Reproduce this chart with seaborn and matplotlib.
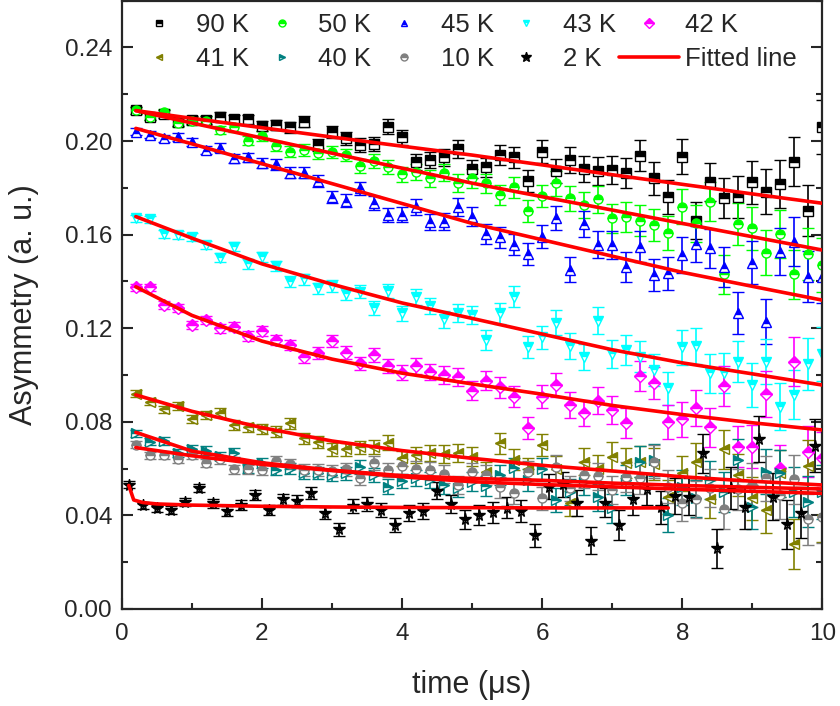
import matplotlib
matplotlib.use('Agg')
import matplotlib.pyplot as plt
from matplotlib.lines import Line2D
from matplotlib.ticker import MultipleLocator
import seaborn as sns

# Tiempos (us)
t = [0.2, 0.4, 0.6, 0.8, 1.0, 1.2, 1.4, 1.6, 1.8, 2.0, 2.2, 2.4, 2.6, 2.8, 3.0, 3.2, 3.4,
     3.6, 3.8, 4.0, 4.2, 4.4, 4.6, 4.8, 5.0, 5.2, 5.4, 5.6, 5.8, 6.0, 6.2, 6.4, 6.6, 6.8,
     7.0, 7.2, 7.4, 7.6, 7.8, 8.0, 8.2, 8.4, 8.6, 8.8, 9.0, 9.2, 9.4, 9.6, 9.8, 10.0]
t_2k = [0.1, 0.3, 0.5, 0.7, 0.9, 1.1, 1.3, 1.5, 1.7, 1.9, 2.1, 2.3, 2.5, 2.7, 2.9, 3.1, 3.3,
        3.5, 3.7, 3.9, 4.1, 4.3, 4.5, 4.7, 4.9, 5.1, 5.3, 5.5, 5.7, 5.9, 6.1, 6.3, 6.5, 6.7,
        6.9, 7.1, 7.3, 7.5, 7.7, 7.9, 8.1, 8.3, 8.5, 8.7, 8.9, 9.1, 9.3, 9.5, 9.7, 9.9]

# Barras de error (comunes)
err = [0.0015, 0.0015, 0.0016, 0.0017, 0.0017, 0.0018, 0.0019, 0.0020, 0.0020, 0.0021,
       0.0022, 0.0023, 0.0024, 0.0025, 0.0026, 0.0027, 0.0029, 0.0030, 0.0031, 0.0032,
       0.0034, 0.0035, 0.0037, 0.0038, 0.0040, 0.0042, 0.0044, 0.0045, 0.0047, 0.0049,
       0.0052, 0.0054, 0.0056, 0.0058, 0.0061, 0.0064, 0.0066, 0.0069, 0.0072, 0.0075,
       0.0078, 0.0082, 0.0085, 0.0089, 0.0093, 0.0097, 0.0101, 0.0105, 0.0110, 0.0114]

# Asimetria por temperatura
a90 = [0.2132, 0.2104, 0.2115, 0.2083, 0.2090, 0.2090, 0.2104, 0.2093, 0.2093, 0.2064,
       0.2068, 0.2058, 0.2083, 0.1983, 0.2040, 0.2011, 0.1983, 0.1987, 0.2061, 0.2016,
       0.1912, 0.1919, 0.1930, 0.1966, 0.1880, 0.1887, 0.1940, 0.1930, 0.1830, 0.1954,
       0.1873, 0.1919, 0.1880, 0.1872, 0.1876, 0.1862, 0.1937, 0.1840, 0.1760, 0.1933,
       0.1660, 0.1826, 0.1755, 0.1760, 0.1823, 0.1783, 0.1816, 0.1912, 0.1702, 0.2060]
a50 = [0.2132, 0.2104, 0.2123, 0.2076, 0.2087, 0.2087, 0.2047, 0.2059, 0.2001, 0.2023,
       0.1979, 0.1954, 0.1962, 0.1947, 0.1954, 0.1940, 0.1893, 0.1916, 0.1890, 0.1859,
       0.1869, 0.1840, 0.1865, 0.1819, 0.1840, 0.1819, 0.1769, 0.1802, 0.1702, 0.1765,
       0.1819, 0.1755, 0.1726, 0.1751, 0.1670, 0.1674, 0.1660, 0.1641, 0.1608, 0.1719,
       0.1648, 0.1741, 0.1430, 0.1645, 0.1627, 0.1523, 0.1603, 0.1430, 0.1517, 0.1470]
a45 = [0.2040, 0.2026, 0.2011, 0.2019, 0.1997, 0.1962, 0.1971, 0.1926, 0.1930, 0.1907,
       0.1900, 0.1865, 0.1865, 0.1830, 0.1762, 0.1745, 0.1798, 0.1736, 0.1684, 0.1684,
       0.1719, 0.1655, 0.1655, 0.1719, 0.1677, 0.1603, 0.1588, 0.1556, 0.1517, 0.1591,
       0.1670, 0.1450, 0.1645, 0.1556, 0.1556, 0.1463, 0.1548, 0.1427, 0.1434, 0.1513,
       0.1560, 0.1541, 0.1463, 0.1264, 0.1480, 0.1228, 0.1527, 0.1570, 0.1420, 0.1420]
a43 = [0.1670, 0.1665, 0.1603, 0.1598, 0.1591, 0.1556, 0.1501, 0.1548, 0.1474, 0.1503,
       0.1466, 0.1399, 0.1409, 0.1370, 0.1380, 0.1346, 0.1356, 0.1285, 0.1360, 0.1264,
       0.1332, 0.1295, 0.1238, 0.1266, 0.1256, 0.1150, 0.1264, 0.1335, 0.1121, 0.1161,
       0.1224, 0.1124, 0.1078, 0.1232, 0.1090, 0.1107, 0.1078, 0.1021, 0.0943, 0.1118,
       0.1124, 0.1007, 0.1010, 0.1057, 0.0957, 0.1057, 0.0865, 0.0915, 0.1047, 0.1090]
a42 = [0.1375, 0.1375, 0.1299, 0.1288, 0.1214, 0.1235, 0.1200, 0.1207, 0.1167, 0.1188,
       0.1150, 0.1128, 0.1076, 0.1095, 0.1145, 0.1095, 0.1050, 0.1085, 0.1038, 0.1010,
       0.1038, 0.1014, 0.1000, 0.0990, 0.0933, 0.0976, 0.0947, 0.0907, 0.0772, 0.0907,
       0.0957, 0.0872, 0.0839, 0.0890, 0.0850, 0.0796, 0.0996, 0.0967, 0.0800, 0.0811,
       0.0858, 0.0776, 0.0953, 0.0694, 0.0694, 0.0919, 0.0601, 0.1057, 0.0672, 0.0644]
a41 = [0.0919, 0.0886, 0.0853, 0.0868, 0.0811, 0.0829, 0.0839, 0.0786, 0.0776, 0.0768,
       0.0758, 0.0793, 0.0729, 0.0715, 0.0682, 0.0682, 0.0691, 0.0691, 0.0711, 0.0644,
       0.0658, 0.0668, 0.0662, 0.0668, 0.0651, 0.0587, 0.0708, 0.0637, 0.0600, 0.0701,
       0.0600, 0.0452, 0.0630, 0.0600, 0.0651, 0.0623, 0.0630, 0.0620, 0.0480, 0.0580,
       0.0630, 0.0469, 0.0682, 0.0573, 0.0473, 0.0423, 0.0580, 0.0278, 0.0611, 0.0400]
a40 = [0.0751, 0.0715, 0.0719, 0.0665, 0.0682, 0.0677, 0.0654, 0.0668, 0.0601, 0.0623,
       0.0594, 0.0600, 0.0580, 0.0580, 0.0573, 0.0580, 0.0608, 0.0573, 0.0523, 0.0547,
       0.0560, 0.0550, 0.0530, 0.0516, 0.0544, 0.0526, 0.0573, 0.0601, 0.0551, 0.0597,
       0.0466, 0.0500, 0.0544, 0.0477, 0.0430, 0.0550, 0.0630, 0.0637, 0.0402, 0.0520,
       0.0473, 0.0550, 0.0500, 0.0637, 0.0437, 0.0587, 0.0580, 0.0500, 0.0459, 0.0500]
a10 = [0.0701, 0.0658, 0.0658, 0.0640, 0.0658, 0.0625, 0.0640, 0.0597, 0.0597, 0.0594,
       0.0634, 0.0620, 0.0594, 0.0594, 0.0591, 0.0597, 0.0558, 0.0623, 0.0594, 0.0611,
       0.0597, 0.0594, 0.0577, 0.0530, 0.0585, 0.0573, 0.0520, 0.0494, 0.0587, 0.0473,
       0.0605, 0.0516, 0.0573, 0.0568, 0.0509, 0.0565, 0.0558, 0.0630, 0.0523, 0.0452,
       0.0469, 0.0516, 0.0426, 0.0511, 0.0530, 0.0558, 0.0487, 0.0554, 0.0383, 0.0395]
a2 = [0.0530, 0.0444, 0.0430, 0.0423, 0.0459, 0.0518, 0.0452, 0.0419, 0.0444, 0.0487,
      0.0423, 0.0469, 0.0462, 0.0497, 0.0409, 0.0341, 0.0440, 0.0449, 0.0423, 0.0359,
      0.0412, 0.0419, 0.0506, 0.0449, 0.0383, 0.0402, 0.0413, 0.0433, 0.0420, 0.0316,
      0.0523, 0.0533, 0.0454, 0.0291, 0.0454, 0.0359, 0.0469, 0.0513, 0.0434, 0.0483,
      0.0480, 0.0665, 0.0259, 0.0518, 0.0434, 0.0726, 0.0480, 0.0362, 0.0412, 0.0698]

fit_t = [0.2, 1, 2, 3, 4, 5, 6, 7, 8, 9, 10]
fit90 = [0.2130, 0.2097, 0.2057, 0.2017, 0.1978, 0.1940, 0.1898, 0.1856, 0.1815, 0.1774, 0.1734]
fit50 = [0.2130, 0.2077, 0.2013, 0.1948, 0.1884, 0.1820, 0.1762, 0.1705, 0.1648, 0.1591, 0.1534]
fit45 = [0.2054, 0.1988, 0.1903, 0.1818, 0.1733, 0.1648, 0.1578, 0.1508, 0.1439, 0.1379, 0.1320]
fit43 = [0.1677, 0.1585, 0.1475, 0.1388, 0.1308, 0.1242, 0.1175, 0.1108, 0.1052, 0.1005, 0.0957]
fit42 = [0.1377, 0.1255, 0.1145, 0.1068, 0.1008, 0.0962, 0.0918, 0.0870, 0.0831, 0.0796, 0.0765]
fit41 = [0.0915, 0.0845, 0.0775, 0.0718, 0.0677, 0.0644, 0.0614, 0.0590, 0.0565, 0.0546, 0.0530]
fit40 = [0.0755, 0.0675, 0.0625, 0.0593, 0.0570, 0.0558, 0.0550, 0.0538, 0.0528, 0.0520, 0.0513]
fit10 = [0.0690, 0.0655, 0.0618, 0.0592, 0.0565, 0.0544, 0.0532, 0.0522, 0.0512, 0.0503, 0.0494]
fit2_t = [0.1, 0.17, 0.3, 0.5, 1, 2, 3, 4, 5, 6, 7, 7.8]
fit2 = [0.0528, 0.0466, 0.0455, 0.0449, 0.0444, 0.0439, 0.0436, 0.0434, 0.0433, 0.0432, 0.0432, 0.0432]

labels = ['90 K', '50 K', '45 K', '43 K', '42 K', '41 K', '40 K', '10 K', '2 K']
colors = ['#000000', '#00ff00', '#0000ff', '#00ffff', '#ff00ff', '#808000', '#008080', '#808080', '#000000']
markers = ['s', 'o', '^', 'v', 'D', '<', '>', 'o', '*']

series = [(t, a90, fit_t, fit90), (t, a50, fit_t, fit50), (t, a45, fit_t, fit45),
          (t, a43, fit_t, fit43), (t, a42, fit_t, fit42), (t, a41, fit_t, fit41),
          (t, a40, fit_t, fit40), (t, a10, fit_t, fit10), (t_2k, a2, fit2_t, fit2)]

sns.set_style('ticks')
plt.rcParams['font.family'] = ['Liberation Sans', 'DejaVu Sans']

fig = plt.figure(figsize=(8.4, 7.06), dpi=100)
ax = fig.add_axes([0.145, 0.1374, 0.834, 0.8617])

handles = []
for (tt, vals, ft, fv), lab, c, m in zip(series, labels, colors, markers):
    ms = 8.5 if m == '*' else 6.5
    ax.errorbar(tt, vals, yerr=err, fmt=m, color=c, ms=ms, mec=c, mfc=c,
                markerfacecoloralt='white', fillstyle='top', mew=1.0,
                elinewidth=1.2, capsize=4.5, capthick=1.2)
    handles.append(Line2D([], [], ls='none', marker=m, color=c, mec=c, mfc=c,
                          markerfacecoloralt='white', fillstyle='top', ms=ms - 1.5))

for (tt, vals, ft, fv) in series:
    sns.lineplot(x=ft, y=fv, color='#ff0000', lw=2.6, ax=ax, zorder=5, legend=False)

handles.append(Line2D([], [], color='#ff0000', lw=2.6))
all_labels = labels + ['Fitted line']
# orden por filas para la leyenda de 5 columnas
order = [0, 5, 1, 6, 2, 7, 3, 8, 4, 9]
ax.legend([handles[i] for i in order], [all_labels[i] for i in order], ncol=5,
          loc='upper left', bbox_to_anchor=(-0.008, 1.0), frameon=False, fontsize=18.5,
          handlelength=2.35, handletextpad=0.25, columnspacing=0.1, labelspacing=0.38,
          borderpad=0.3, borderaxespad=0.2)

ax.set_xlim(0, 10)
ax.set_ylim(0, 0.26)
ax.xaxis.set_major_locator(MultipleLocator(2))
ax.xaxis.set_minor_locator(MultipleLocator(1))
ax.yaxis.set_major_locator(MultipleLocator(0.04))
ax.yaxis.set_minor_locator(MultipleLocator(0.02))
ax.yaxis.set_major_formatter(plt.FormatStrFormatter('%.2f'))
ax.tick_params(which='both', direction='in', width=1.5, right=True, top=False,
               labelsize=17.5)
ax.tick_params(axis='x', pad=10)
ax.tick_params(axis='y', pad=7)
ax.tick_params(which='major', length=8)
ax.tick_params(which='minor', length=4)
for s in ax.spines.values():
    s.set_linewidth(1.6)
    s.set_visible(True)

ax.set_xlabel('time (μs)', fontsize=22, labelpad=18)
ax.set_ylabel('Asymmetry (a. u.)', fontsize=22, labelpad=18)

fig.savefig('out.png', dpi=100)
